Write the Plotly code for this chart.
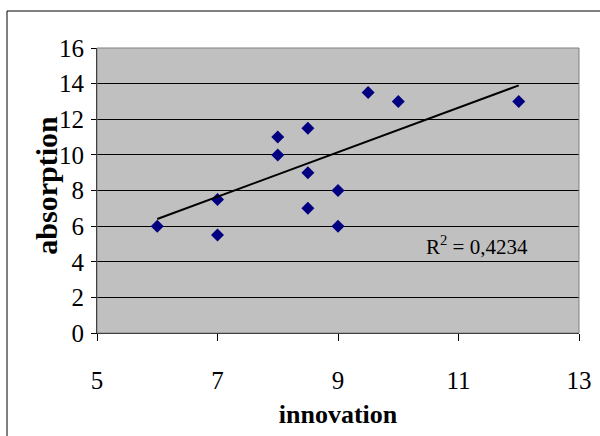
import plotly.graph_objects as go

# innovation vs absorption scores
innovation = [6, 7, 7, 8, 8, 8.5, 8.5, 8.5, 9, 9, 9.5, 10, 12]
absorption = [6, 7.5, 5.5, 11, 10, 11.5, 9, 7, 8, 6, 13.5, 13, 13]

# linear trendline endpoints
trend_x = [6, 12]
trend_y = [6.4, 13.9]
r_squared = "0,4234"

serif = "Liberation Serif"

fig = go.Figure()

fig.add_trace(go.Scatter(
    x=innovation, y=absorption, mode="markers",
    marker=dict(symbol="diamond", size=10, color="#000080"),
))
fig.add_trace(go.Scatter(
    x=trend_x, y=trend_y, mode="lines",
    line=dict(color="black", width=2),
))

fig.add_annotation(
    x=10.42, y=4.9, xanchor="left", yanchor="middle", showarrow=False,
    text="R<sup>2</sup> = " + r_squared,
    font=dict(family=serif, size=21, color="black"),
)

# y title placed by hand so it sits close to the tick labels like in Excel
fig.add_annotation(
    xref="paper", yref="paper", x=-0.104, y=0.52, textangle=-90,
    xanchor="center", yanchor="middle", showarrow=False,
    text="<b>absorption</b>", font=dict(family=serif, size=30, color="black"),
)

# outer chart frame (right/bottom edges fall outside the picture)
fig.add_shape(type="rect", xref="paper", yref="paper",
              x0=-0.1867, y0=-0.5, x1=1.2, y1=1.1298,
              line=dict(color="black", width=1), layer="below")

fig.update_layout(
    width=600, height=436,
    margin=dict(l=97, r=21, t=48, b=103),
    paper_bgcolor="white",
    plot_bgcolor="#C0C0C0",
    showlegend=False,
    font=dict(family=serif, size=25, color="black"),
    xaxis=dict(
        range=[5, 13], tickvals=[5, 7, 9, 11, 13], showgrid=False,
        zeroline=False, showline=True, linecolor="black", linewidth=1,
        ticks="outside", ticklen=7, tickcolor="black",
        tickfont=dict(family=serif, size=25), ticklabelstandoff=18,
        title=dict(text="<b>innovation</b>", font=dict(family=serif, size=26), standoff=11),
        automargin=False,
    ),
    yaxis=dict(
        range=[0, 16], dtick=2, showgrid=True, gridcolor="black", gridwidth=1,
        zeroline=False, showline=True, linecolor="black", linewidth=1,
        ticks="outside", ticklen=5, tickcolor="black",
        tickfont=dict(family=serif, size=25), ticklabelstandoff=2,
        automargin=False,
    ),
)

# grey border on right/top of plot area
fig.add_shape(type="rect", xref="paper", yref="paper", x0=0, y0=0, x1=1, y1=1,
              line=dict(color="#808080", width=1))

fig.write_html("out.html", config={"displayModeBar": False},
               post_script="document.body.style.margin='0';document.body.style.overflow='hidden';")
